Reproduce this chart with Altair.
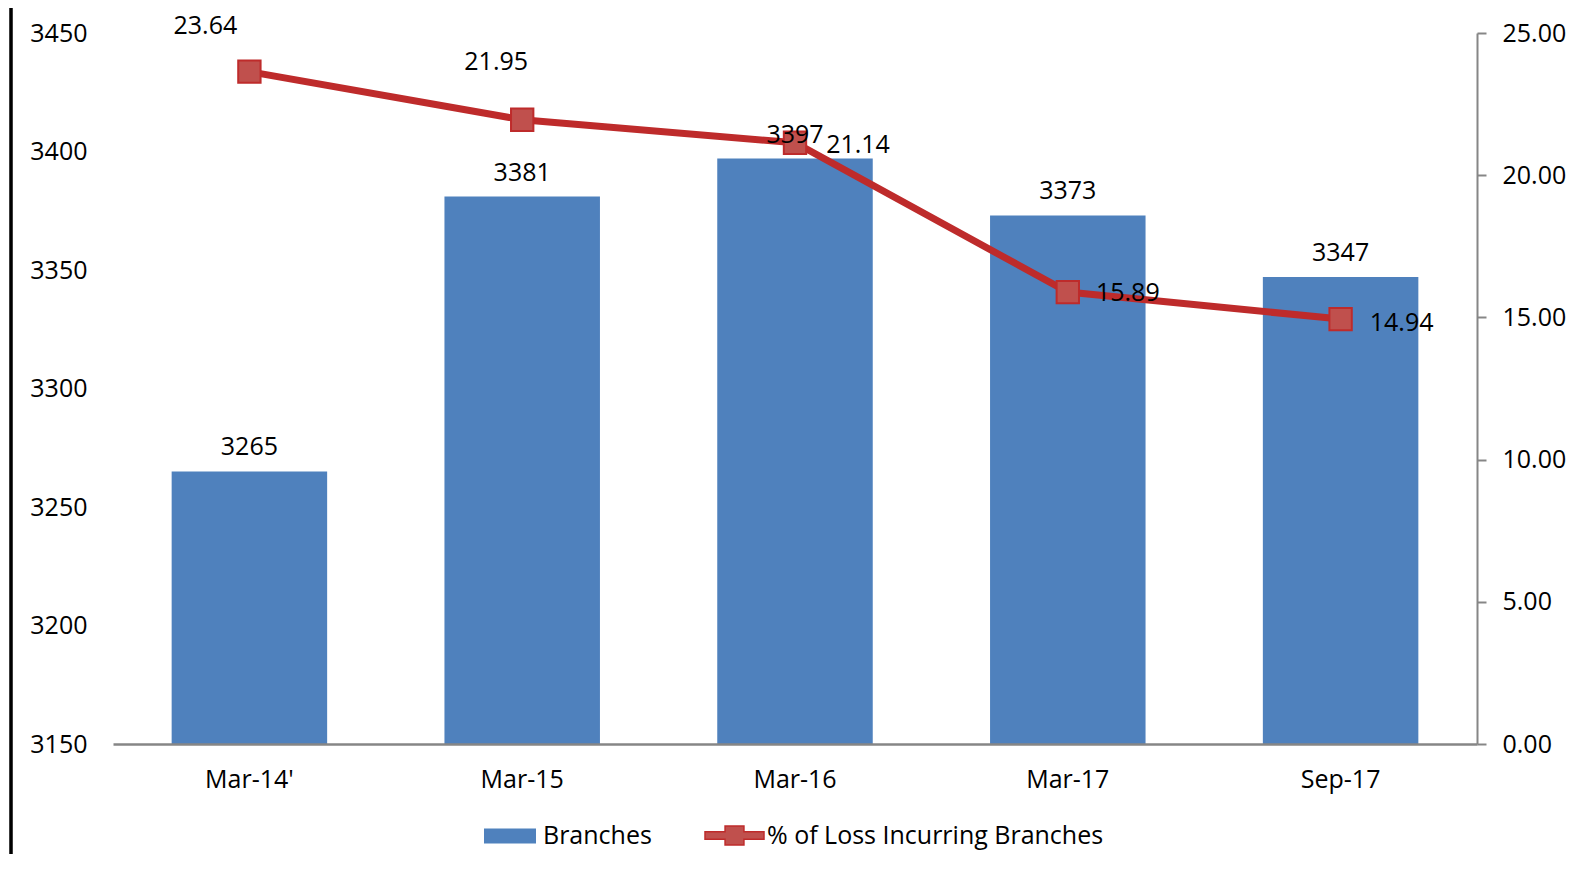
import altair as alt
import pandas as pd

# ---- data ----
periods = ["Mar-14'", "Mar-15", "Mar-16", "Mar-17", "Sep-17"]
branches = [3265, 3381, 3397, 3373, 3347]
loss_pct = [23.64, 21.95, 21.14, 15.89, 14.94]
bar_series = "Branches"
line_series = "% of Loss Incurring Branches"
left_ticks = [3150, 3200, 3250, 3300, 3350, 3400, 3450]
right_ticks = [0, 5, 10, 15, 20, 25]

df = pd.DataFrame({
    "period": periods,
    "branches": branches,
    "loss": loss_pct,
    "bs": [bar_series] * len(periods),
    "ls": [line_series] * len(periods),
})

# ---- styling ----
FONT = "Open Sans"
FS = 25
BLUE = "#4F81BD"
RED_LINE = "#BE2B2B"
RED_FILL = "#C0504D"
GREY = "#868686"
W, H = 1364, 711

# label offsets for the percentage labels (dx, dy), in period order
pct_label_offsets = [(-44, -46), (-26, -58), (63, 2), (60, 1), (61, 4)]

x_enc = alt.X(
    "period:N",
    sort=periods,
    scale=alt.Scale(paddingInner=0.43, paddingOuter=0.215),
    axis=alt.Axis(
        title=None, labelAngle=0, ticks=False, domainColor=GREY, domainWidth=2.5,
        labelFont=FONT, labelFontSize=FS, labelColor="black", labelPadding=23,
        zindex=1,
    ),
)

left_scale = alt.Scale(domain=[3150, 3450], zero=False, nice=False, clamp=True)

y_left = alt.Y(
    "branches:Q",
    scale=left_scale,
    axis=alt.Axis(
        title=None, orient="left", values=left_ticks, format="d", domain=False,
        ticks=False, grid=False, labelFont=FONT, labelFontSize=FS,
        labelColor="black", labelPadding=26,
    ),
)
y_left_text = alt.Y("branches:Q", scale=left_scale, axis=None)

y_right = alt.Y(
    "loss:Q",
    scale=alt.Scale(domain=[0, 25], nice=False),
    axis=alt.Axis(
        title=None, orient="right", values=right_ticks, format=".2f", domain=True,
        domainColor=GREY, domainWidth=2, ticks=True, tickColor=GREY, tickWidth=2,
        tickSize=9, grid=False, labelFont=FONT, labelFontSize=FS,
        labelColor="black", labelPadding=16,
    ),
)

base = alt.Chart(df)

bars = base.mark_bar().encode(
    x=x_enc,
    y=y_left,
    fill=alt.Fill(
        "bs:N",
        scale=alt.Scale(domain=[bar_series], range=[BLUE]),
        legend=alt.Legend(
            title=None, orient="none", legendX=371, legendY=777,
            symbolType="M-1,-0.29H1V0.29H-1Z", symbolSize=2704,
            symbolStrokeWidth=0, labelFont=FONT, labelFontSize=FS,
            labelColor="black", labelOffset=7, padding=0, labelLimit=0,
        ),
    ),
)

bar_text = base.mark_text(
    dy=-24, baseline="middle", align="center", font=FONT, fontSize=FS, color="black"
).encode(x=x_enc, y=y_left_text, text=alt.Text("branches:Q", format="d"))

line = base.mark_line(color=RED_LINE, strokeWidth=7).encode(x=x_enc, y=y_right)

points = base.mark_point(
    shape="square", filled=True, size=500, stroke=RED_LINE, strokeWidth=2, opacity=1
).encode(
    x=x_enc,
    y=y_right,
    fill=alt.Fill(
        "ls:N",
        scale=alt.Scale(domain=[line_series], range=[RED_FILL]),
        legend=alt.Legend(
            title=None, orient="none", legendX=591, legendY=772,
            symbolType="M-1,-0.13H-0.32V-0.32H0.32V-0.13H1V0.13H0.32V0.32H-0.32V0.13H-1Z",
            symbolSize=3481, symbolStrokeColor=RED_LINE, symbolStrokeWidth=1.5,
            labelFont=FONT, labelFontSize=FS, labelColor="black",
            labelOffset=2, padding=0, labelLimit=0,
        ),
    ),
)

pct_texts = []
for p, (dx, dy) in zip(periods, pct_label_offsets):
    pct_texts.append(
        base.transform_filter(alt.datum.period == p)
        .mark_text(dx=dx, dy=dy, baseline="middle", align="center",
                   font=FONT, fontSize=FS, color="black")
        .encode(x=x_enc, y=y_right, text=alt.Text("loss:Q", format=".2f"))
    )

right = alt.layer(line, points, *pct_texts)

border = base.mark_rule(color="black", strokeWidth=2.5).encode(
    x=alt.value(-102), y=alt.value(-25), y2=alt.value(840)
)

chart = (
    alt.layer(bars, right, bar_text, border)
    .resolve_scale(y="independent", fill="independent")
    .properties(
        width=W, height=H,
        background="white",
        autosize=alt.AutoSizeParams(type="none"),
        padding={"left": 105, "top": 25, "right": 99, "bottom": 110},
    )
    .configure_view(stroke="transparent", strokeWidth=0)
)

chart.save("out.html", embed_options={"renderer": "svg", "actions": False})
